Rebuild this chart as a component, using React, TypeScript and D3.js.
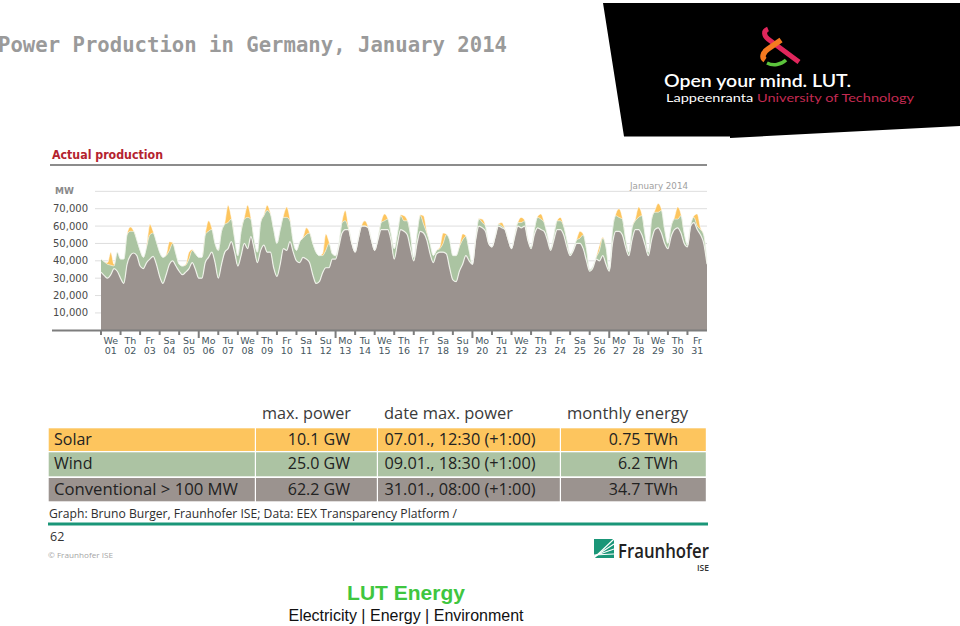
import React, { useEffect, useRef } from 'react';
import * as d3 from 'd3';

const weekdays = ['We','Th','Fr','Sa','Su','Mo','Tu','We','Th','Fr','Sa','Su','Mo','Tu','We','Th','Fr','Sa','Su','Mo','Tu','We','Th','Fr','Sa','Su','Mo','Tu','We','Th','Fr'];
const days = weekdays.map((_, i) => String(i + 1).padStart(2, '0'));
const yTicks = [10000, 20000, 30000, 40000, 50000, 60000, 70000];

// GW, one row per day, samples every 4 hours, last value closes the month
const conventional = [
  33.5,31.5,30,32,35.5,34,
  30,27,38,43,44.5,43,
  37,35.5,39,41,42.5,38,
  31,27,32,38,40,37,
  34,32,33.5,35.5,39,35,
  30,30,39,42,45,39,
  30,38,45,47,51,45,
  37,43,50,47,54,47,
  39,46,49,45,45,36,
  31,38,47,46,51,45,
  40,39,42,41,39,32,
  27,28,33,36,36,41,
  41,48,56,58,58,50,
  45,53,60,60,59,52,
  46,52,58,58,58,52,
  41,50,58,57,55,47,
  40,50,57,56,52,44,
  39,44,45,45,44,36,
  29,28,34,38,43,40,
  38,52,60,59,57,50,
  48,54,60,59,58,52,
  47,54,60,59,60,52,
  47,55,59,58,57,52,
  46,52,58,58,55,48,
  43,46,50,50,47,40,
  34,36,41,40,43,38,
  34,50,57,57,55,48,
  43,52,58,58,55,49,
  43,52,58,59,56,50,
  47,54,58,59,56,50,
  48,60,62,58,55,50,
  38,
];
const wind = [
  7.5,8,8,5.5,1.5,11,
  11,14,17,14,12.5,9,
  9,6.5,9,14,13.5,13,
  14,15,11,8,10,7,
  4,5,4,5.5,7,9,
  12,12,16,15,13,11,
  16,19,16,15,13,8,
  6,14,14,18,10,5,
  6,16,17,24,22,22,
  19,20,18,19,12,6,
  6,12,11,14,17,18,
  18,15,10,10,14,3,
  2,2,6,5,0,0,
  0,0,0,0,0,0,
  0,1,4,5,6,4,
  6,6,8,6,8,8,
  2,6,9,5,4,6,
  4,2,2,5,11,16,
  14,15,14,14,11,6,
  0,1,4,3,3,0,
  0,0,1,1,0,0,
  0,1,2,3,3,1,
  1,3,6,6,5,3,
  1,3,5,5,5,4,
  1,1,2,3,8,7,
  1,1,1,6,10,10,
  1,8,9,8,9,5,
  2,7,5,7,11,6,
  2,12,10,9,13,8,
  3,6,6,5,10,6,
  1,1,3,2,3,5,
  2,
];
const solar = [
  0,0,1,7.5,1,0,
  0,0,.3,2.5,.3,0,
  0,0,.5,6,1,0,
  0,0,.5,5,.5,0,
  0,0,.5,4,.5,0,
  0,0,.5,6,1,0,
  0,0,1,10,1,0,
  0,0,1,7,1,0,
  0,0,.5,3,.5,0,
  0,0,1,6,1,0,
  0,0,.5,4,.5,0,
  0,0,1,9.5,1,0,
  0,0,1,6,1,0,
  0,0,.5,3,.5,0,
  0,0,.5,4,.5,0,
  0,0,.5,3,.5,0,
  0,0,.5,5,1,0,
  0,0,1,6,.5,0,
  0,0,.5,3.5,.5,0,
  0,0,.3,2,.3,0,
  0,0,.3,2,.3,0,
  0,0,.5,3,.5,0,
  0,0,.5,3,.5,0,
  0,0,.3,2,.3,0,
  0,0,.5,4,.5,0,
  0,0,.5,3,.5,0,
  0,0,1,5,1,0,
  0,0,1,6,1,0,
  0,0,1,5,1,0,
  0,0,1,7,1,0,
  0,0,1,7,1,0,
  0,
];

const tableHead = ['max. power', 'date max. power', 'monthly energy'];
const tableNames = ['Solar', 'Wind', 'Conventional > 100 MW'];
const tablePower = ['10.1 GW', '25.0 GW', '62.2 GW'];
const tableDate = ['07.01., 12:30 (+1:00)', '09.01., 18:30 (+1:00)', '31.01., 08:00 (+1:00)'];
const tableEnergy = ['0.75 TWh', '6.2 TWh', '34.7 TWh'];

const GREY = '#9b938f';
const GREEN = '#abc4a2';
const ORANGE = '#fdc55e';
const tableColors = [ORANGE, '#acc3a3', GREY];
const tableFont = '"Open Sans", "Noto Sans", sans-serif';
const chartFont = '"DejaVu Sans", Verdana, sans-serif';

const App: React.FC = () => {
  const ref = useRef<SVGSVGElement>(null);

  useEffect(() => {
    if (!ref.current) return;
    const svg = d3.select(ref.current);
    svg.selectAll('*').remove();

    const label = (g: any, x: number, y: number, s: string, size: number, fill: string, font: string, opts: any = {}) => {
      const t = g.append('text').attr('x', x).attr('y', y).attr('font-size', size)
        .attr('fill', fill).attr('font-family', font).text(s);
      if (opts.anchor) t.attr('text-anchor', opts.anchor);
      if (opts.weight) t.attr('font-weight', opts.weight);
      if (opts.len) t.attr('textLength', opts.len).attr('lengthAdjust', 'spacingAndGlyphs');
      return t;
    };

    // title
    label(svg, -2, 52, 'Power Production in Germany, January 2014', 20.6, '#9a9a9a', '"DejaVu Sans Mono", monospace', { weight: 'bold', len: 509 });

    // logo block
    svg.append('path').attr('d', 'M603,3L960,3L960,126L730,138L730,136.5L624,136.5Z').attr('fill', '#000');
    svg.append('path').attr('d', 'M768,29C763,31 764,36 768,39L799,62').attr('fill', 'none').attr('stroke', '#e0265c').attr('stroke-width', 5);
    svg.append('path').attr('d', 'M781,40L768,49C762,53 762,58 765,60').attr('fill', 'none').attr('stroke', '#f47a20').attr('stroke-width', 5.5);
    svg.append('path').attr('d', 'M767,63C773,66 781,65 786,60').attr('fill', 'none').attr('stroke', '#5cc43c').attr('stroke-width', 3.5);
    label(svg, 664, 87, 'Open your mind. LUT.', 17, '#fff', 'Lato, "Open Sans", sans-serif', { weight: 600, len: 187 });
    const sub = label(svg, 666, 102, 'Lappeenranta ', 12, '#fff', 'Lato, "Open Sans", sans-serif', { len: 91 });
    sub.attr('xml:space', 'preserve');
    label(svg, 757, 102, 'University of Technology', 12, '#c42a52', 'Lato, "Open Sans", sans-serif', { len: 157 });

    // chart header
    label(svg, 52, 159, 'Actual production', 11.5, '#b4232e', chartFont, { weight: 'bold', len: 111 });
    svg.append('rect').attr('x', 50).attr('y', 164).attr('width', 657).attr('height', 2).attr('fill', '#8c8c8c');
    label(svg, 55, 194, 'MW', 9, '#8a8a8a', chartFont, { weight: 'bold' });
    label(svg, 630, 189, 'January 2014', 9, '#a0a0a0', chartFont, { len: 58 });

    const x = d3.scaleLinear().domain([0, 31 * 24]).range([101, 707]);
    const y = d3.scaleLinear().domain([0, 70000]).range([330.3, 208.7]);

    // gridlines and value labels
    const grid = svg.append('g');
    [...yTicks, 80000].forEach(t => {
      grid.append('line').attr('x1', 95).attr('x2', 707).attr('y1', y(t)).attr('y2', y(t))
        .attr('stroke', '#dedede').attr('stroke-width', 1);
    });
    yTicks.forEach(t => {
      label(svg, 88, y(t) + 3.5, d3.format(',')(t), 10, '#4a4a4a', chartFont, { anchor: 'end' });
    });

    // stacked areas
    const rows = conventional.map((c, i) => ({ hour: i * 4, conventional: c * 1000, wind: wind[i] * 1000, solar: solar[i] * 1000 }));
    const stack = d3.stack<any>().keys(['conventional', 'wind', 'solar'])(rows);
    const area = d3.area<any>().x(d => x(d.data.hour)).y0(d => y(d[0])).y1(d => y(d[1])).curve(d3.curveMonotoneX);
    const top = d3.line<any>().x(d => x(d.data.hour)).y(d => y(d[1])).curve(d3.curveMonotoneX);
    const fills = [GREY, GREEN, ORANGE];
    svg.selectAll('.layer').data(stack).enter().append('path')
      .attr('class', 'layer').attr('d', (d: any) => area(d)).attr('fill', (_, i) => fills[i]);
    svg.append('path').attr('d', top(stack[2] as any)).attr('fill', 'none').attr('stroke', '#fff').attr('stroke-width', 1).attr('opacity', 0.55);
    svg.append('path').attr('d', top(stack[1] as any)).attr('fill', 'none').attr('stroke', '#eef3ea').attr('stroke-width', 1).attr('opacity', 0.6);
    svg.append('path').attr('d', top(stack[0] as any)).attr('fill', 'none').attr('stroke', '#f4f5ee').attr('stroke-width', 1.2).attr('opacity', 0.9);

    // x axis with day ticks, longer on Mondays
    svg.append('rect').attr('x', 52).attr('y', 329.5).attr('width', 655).attr('height', 2).attr('fill', '#7d7d7d');
    weekdays.forEach((w, i) => {
      const px = x(i * 24);
      svg.append('rect').attr('x', px - 1).attr('y', 331).attr('width', 2).attr('height', w === 'Mo' ? 7 : 4).attr('fill', '#7d7d7d');
      const mid = x((i + 0.5) * 24);
      label(svg, mid, 344, w, 9.5, '#45565e', chartFont, { anchor: 'middle' });
      label(svg, mid, 354, days[i], 9.5, '#45565e', chartFont, { anchor: 'middle' });
    });

    // table
    const colX = [48.7, 256, 378, 561, 707];
    const rowY = [428.3, 452.3, 478];
    const rowH = [22.7, 24, 23.3];
    label(svg, 262, 419, tableHead[0], 16, '#3a3a3a', tableFont, { len: 89 });
    label(svg, 384, 419, tableHead[1], 16, '#3a3a3a', tableFont, { len: 129 });
    label(svg, 567, 419, tableHead[2], 16, '#3a3a3a', tableFont, { len: 121 });
    tableNames.forEach((name, r) => {
      colX.slice(0, 4).forEach((cx, c) => {
        svg.append('rect').attr('x', cx).attr('y', rowY[r]).attr('width', colX[c + 1] - cx - 1.2).attr('height', rowH[r]).attr('fill', tableColors[r]);
      });
      const by = rowY[r] + 16.5;
      label(svg, 54, by, name, 16, '#222', tableFont, r === 2 ? { len: 184 } : {});
      label(svg, 350, by, tablePower[r], 16, '#222', tableFont, { anchor: 'end' });
      label(svg, 384.5, by, tableDate[r], 16, '#222', tableFont, { len: 151 });
      label(svg, 678, by, tableEnergy[r], 16, '#222', tableFont, { anchor: 'end' });
    });

    // footer of the slide
    label(svg, 49, 518, 'Graph: Bruno Burger, Fraunhofer ISE; Data: EEX Transparency Platform /', 13, '#2e2e2e', tableFont, { len: 408 });
    svg.append('rect').attr('x', 48).attr('y', 522.5).attr('width', 660).attr('height', 3).attr('fill', '#1a9678');
    label(svg, 50, 541, '62', 12.5, '#333', tableFont);
    label(svg, 48, 558, '© Fraunhofer ISE', 8, '#a5a5a5', tableFont, { len: 65 });

    // Fraunhofer mark
    svg.append('rect').attr('x', 594).attr('y', 539).attr('width', 20).attr('height', 19).attr('fill', '#1a9678');
    [0, 1, 2, 3].forEach(i => {
      svg.append('line').attr('x1', 594).attr('y1', 558 - i).attr('x2', 614).attr('y2', 539 + i * 5)
        .attr('stroke', '#fff').attr('stroke-width', 1.2);
    });
    label(svg, 618, 558, 'Fraunhofer', 19, '#222', tableFont, { weight: 600, len: 91 });
    label(svg, 697, 571, 'ISE', 8, '#333', tableFont, { weight: 600, len: 12 });

    label(svg, 406, 600, 'LUT Energy', 21, '#3fc63f', '"Liberation Sans", Arial, sans-serif', { anchor: 'middle', weight: 'bold' });
    label(svg, 406, 621, 'Electricity | Energy | Environment', 16, '#111', '"Liberation Sans", Arial, sans-serif', { anchor: 'middle' });
  }, []);

  return <svg ref={ref} width={960} height={626} style={{ position: 'absolute', left: 0, top: 0, background: '#fff' }} />;
};

export default App;
